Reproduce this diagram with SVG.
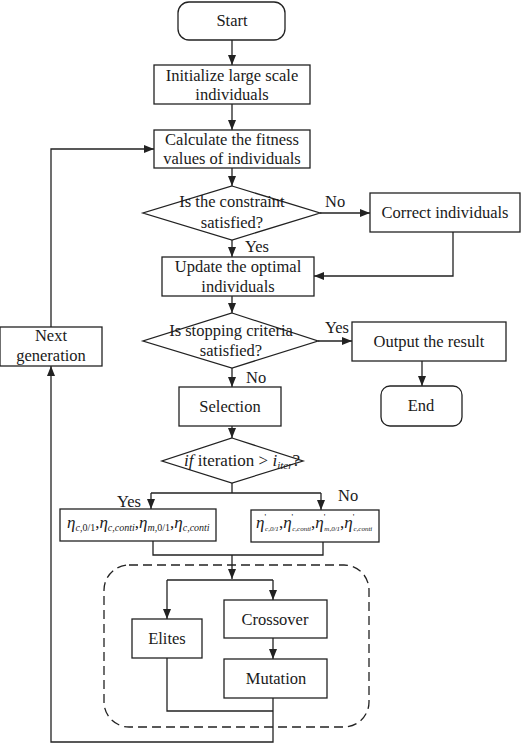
<svg xmlns="http://www.w3.org/2000/svg" width="526" height="744" viewBox="0 0 526 744">
<style>
.box{fill:#fff;stroke:#222;stroke-width:1.3}
.ln{fill:none;stroke:#222;stroke-width:1.3}
.t{font-family:'Liberation Serif','Tinos','DejaVu Serif','Noto Serif',serif;font-size:16.5px;fill:#1a1a1a;text-anchor:middle}
.l{font-family:'Liberation Serif','Tinos','DejaVu Serif','Noto Serif',serif;font-size:16.5px;fill:#1a1a1a}
.m{font-family:'Liberation Serif','Tinos','DejaVu Serif','Noto Serif',serif;font-size:17px;fill:#1a1a1a}
</style>
<defs>
<marker id="ah" markerWidth="10" markerHeight="8" refX="10" refY="4" orient="auto" markerUnits="userSpaceOnUse">
<path d="M0,0 L10,4 L0,8 z" fill="#222"/>
</marker>
</defs>
<rect width="526" height="744" fill="#fff"/>
<g id="connectors">
<path class="ln" d="M232,40 V65" marker-end="url(#ah)"/>
<path class="ln" d="M232,104 V130" marker-end="url(#ah)"/>
<path class="ln" d="M232,168 V186" marker-end="url(#ah)"/>
<path class="ln" d="M320,213 H370" marker-end="url(#ah)"/>
<path class="ln" d="M232,240 V257" marker-end="url(#ah)"/>
<path class="ln" d="M453,232 V276 H314" marker-end="url(#ah)"/>
<path class="ln" d="M232,296 V313" marker-end="url(#ah)"/>
<path class="ln" d="M318,341 H352" marker-end="url(#ah)"/>
<path class="ln" d="M422,361 V386" marker-end="url(#ah)"/>
<path class="ln" d="M232,368 V387" marker-end="url(#ah)"/>
<path class="ln" d="M232,426 V438" marker-end="url(#ah)"/>
<path class="ln" d="M232,483 V493 M151,493 H321"/>
<path class="ln" d="M151,493 V509" marker-end="url(#ah)"/>
<path class="ln" d="M321,493 V510" marker-end="url(#ah)"/>
<path class="ln" d="M153,541 V555 H323 V542"/>
<path class="ln" d="M232,555 V579" marker-end="url(#ah)"/>
<path class="ln" d="M167,580 H273"/>
<path class="ln" d="M167,580 V619" marker-end="url(#ah)"/>
<path class="ln" d="M273,580 V600" marker-end="url(#ah)"/>
<path class="ln" d="M273,638 V659" marker-end="url(#ah)"/>
<path class="ln" d="M167,658 V711 H273"/>
<path class="ln" d="M273,698 V742 H51 V366" marker-end="url(#ah)"/>
<path class="ln" d="M51,327 V149 H154" marker-end="url(#ah)"/>
</g>
<g id="group">
<rect x="104" y="565" width="265" height="162" rx="25" fill="none" stroke="#222" stroke-width="1.3" stroke-dasharray="9,5"/>
</g>
<g id="start">
<rect class="box" x="178" y="2" width="107" height="38" rx="11"/>
<text class="t" x="232" y="26">Start</text>
</g>
<g id="init">
<rect class="box" x="154" y="65" width="156" height="39"/>
<text class="t" x="232" y="81">Initialize large scale</text>
<text class="t" x="232" y="100">individuals</text>
</g>
<g id="calc">
<rect class="box" x="154" y="130" width="156" height="38"/>
<text class="t" x="232" y="145">Calculate the fitness</text>
<text class="t" x="232" y="164">values of individuals</text>
</g>
<g id="constraint">
<polygon class="box" points="232,186 320,213 232,240 143,213"/>
<text class="t" x="232" y="207">Is the constraint</text>
<text class="t" x="232" y="228">satisfied?</text>
<text class="l" x="325" y="207">No</text>
<text class="l" x="245" y="252">Yes</text>
</g>
<g id="correct">
<rect class="box" x="370" y="193" width="150" height="39"/>
<text class="t" x="445" y="218">Correct individuals</text>
</g>
<g id="update">
<rect class="box" x="162" y="257" width="152" height="39"/>
<text class="t" x="238" y="272">Update the optimal</text>
<text class="t" x="238" y="292">individuals</text>
</g>
<g id="stopping">
<polygon class="box" points="232,313 318,341 232,368 143,341"/>
<text class="t" x="231" y="336">Is stopping criteria</text>
<text class="t" x="231" y="356">satisfied?</text>
<text class="l" x="325" y="333">Yes</text>
<text class="l" x="246" y="383">No</text>
</g>
<g id="output">
<rect class="box" x="352" y="322" width="154" height="39"/>
<text class="t" x="429" y="347">Output the result</text>
</g>
<g id="end">
<rect class="box" x="381" y="386" width="81" height="40" rx="9"/>
<text class="t" x="421" y="411">End</text>
</g>
<g id="nextgen">
<rect class="box" x="0" y="327" width="102" height="39"/>
<text class="t" x="51" y="341">Next</text>
<text class="t" x="51" y="361">generation</text>
</g>
<g id="selection">
<rect class="box" x="179" y="387" width="102" height="39"/>
<text class="t" x="230" y="412">Selection</text>
</g>
<g id="iteration">
<polygon class="box" points="232,438 303,461 232,483 162,461"/>
<text class="m" x="184" y="466"><tspan font-style="italic">if</tspan>  iteration &gt; <tspan font-style="italic">i</tspan><tspan font-style="italic" font-size="11" dy="3">iter</tspan><tspan dy="-3">?</tspan></text>
<text class="l" x="117" y="507">Yes</text>
<text class="l" x="338" y="501">No</text>
</g>
<g id="params-yes">
<rect class="box" x="60" y="509" width="156" height="32"/>
<text class="m" x="67" y="528"><tspan font-style="italic">η</tspan><tspan font-size="10" dy="3"><tspan font-style="italic">c</tspan>,0/1</tspan><tspan dy="-3">,</tspan><tspan font-style="italic">η</tspan><tspan font-size="10" dy="3" font-style="italic">c,conti</tspan><tspan dy="-3">,</tspan><tspan font-style="italic">η</tspan><tspan font-size="10" dy="3"><tspan font-style="italic">m</tspan>,0/1</tspan><tspan dy="-3">,</tspan><tspan font-style="italic">η</tspan><tspan font-size="10" dy="3" font-style="italic">c,conti</tspan></text>
</g>
<g id="params-no">
<rect class="box" x="251" y="510" width="128" height="32"/>
<text class="m" x="256" y="528"><tspan font-style="italic">η</tspan><tspan font-size="9" dy="-8">'</tspan><tspan font-size="7" dy="11" dx="-1" font-style="italic">c,0/1</tspan><tspan dy="-3">,</tspan><tspan font-style="italic">η</tspan><tspan font-size="9" dy="-8">'</tspan><tspan font-size="7" dy="11" dx="-1" font-style="italic">c,conti</tspan><tspan dy="-3">,</tspan><tspan font-style="italic">η</tspan><tspan font-size="9" dy="-8">'</tspan><tspan font-size="7" dy="11" dx="-1" font-style="italic">m,0/1</tspan><tspan dy="-3">,</tspan><tspan font-style="italic">η</tspan><tspan font-size="9" dy="-8">'</tspan><tspan font-size="7" dy="11" dx="-1" font-style="italic">c,conti</tspan></text>
</g>
<g id="elites">
<rect class="box" x="132" y="619" width="70" height="39"/>
<text class="t" x="167" y="644">Elites</text>
</g>
<g id="crossover">
<rect class="box" x="224" y="600" width="103" height="38"/>
<text class="t" x="275" y="625">Crossover</text>
</g>
<g id="mutation">
<rect class="box" x="224" y="659" width="103" height="39"/>
<text class="t" x="276" y="684">Mutation</text>
</g>
</svg>
